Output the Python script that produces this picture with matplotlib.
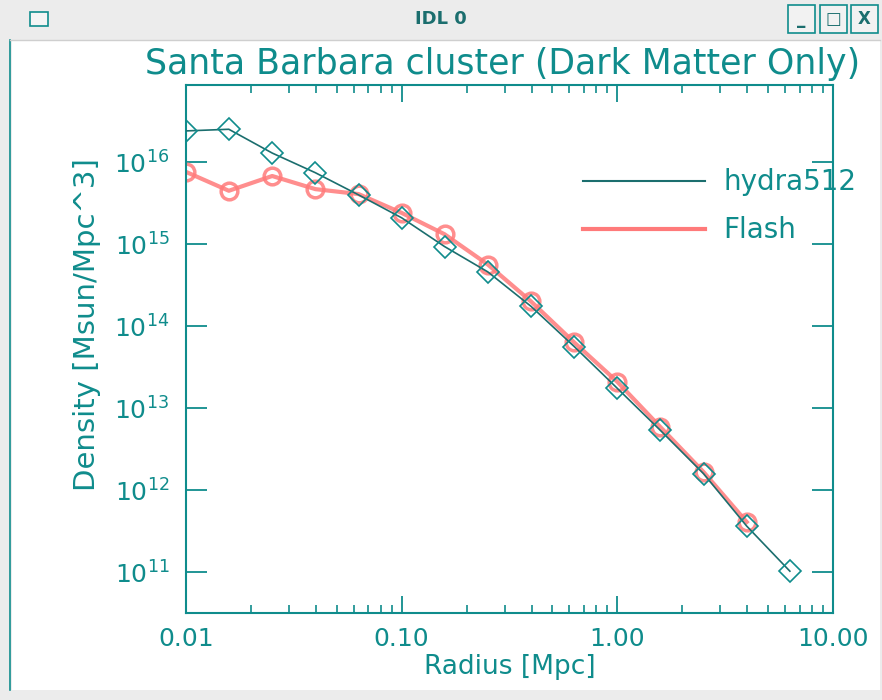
import numpy as np
import matplotlib.pyplot as plt
from matplotlib.patches import Rectangle
from matplotlib.lines import Line2D

# radius bins [Mpc] and log10 density [Msun/Mpc^3]
radius_hydra = [0.01, 0.0158, 0.0251, 0.0398, 0.0631, 0.1, 0.158, 0.251, 0.398,
                0.631, 1.0, 1.58, 2.51, 3.98, 6.31]
logdens_hydra = [16.38, 16.40, 16.11, 15.87, 15.60, 15.32, 14.97, 14.66, 14.24,
                 13.75, 13.24, 12.73, 12.20, 11.56, 11.01]
radius_flash = [0.01, 0.0158, 0.0251, 0.0398, 0.0631, 0.1, 0.158, 0.251, 0.398,
                0.631, 1.0, 1.58, 2.51, 3.98]
logdens_flash = [15.88, 15.65, 15.83, 15.67, 15.61, 15.38, 15.12, 14.75, 14.30,
                 13.80, 13.32, 12.77, 12.22, 11.61]

xticks = [0.01, 0.1, 1.0, 10.0]
xticklabels = ['0.01', '0.10', '1.00', '10.00']
yticks = [1e11, 1e12, 1e13, 1e14, 1e15, 1e16]
yticklabels = [r'$10^{11}$', r'$10^{12}$', r'$10^{13}$', r'$10^{14}$', r'$10^{15}$', r'$10^{16}$']

TEAL = '#0f8c8c'
DARKTEAL = '#1b6e6e'
RED = '#ff7a7a'

W, H = 882, 700
fig = plt.figure(figsize=(W / 100, H / 100), dpi=100, facecolor='#ececec')

# window decoration (IDL window)
def px(x0, y0, w, h):
    return (x0 / W, 1 - (y0 + h) / H), w / W, h / H

xy, w, h = px(12, 40, 868, 650)
fig.patches.append(Rectangle(xy, w, h, transform=fig.transFigure, facecolor='white',
                             edgecolor='none', zorder=-5))
fig.add_artist(Line2D([10 / W, 10 / W], [1 - 40 / H, 1 - 690 / H], color=TEAL, lw=1.2))
fig.add_artist(Line2D([10 / W, 880 / W], [1 - 40 / H, 1 - 40 / H], color='#cfcfcf', lw=1))
fig.text(441 / W, 1 - 19 / H, 'IDL 0', ha='center', va='center', fontsize=13,
         fontweight='bold', color=DARKTEAL)
xy, w, h = px(30, 12, 18, 14)
fig.patches.append(Rectangle(xy, w, h, transform=fig.transFigure, facecolor='#f4f4f4',
                             edgecolor=TEAL, lw=1.2))
for bx, sym in [(788, '_'), (820, '□'), (851, 'X')]:
    xy, w, h = px(bx, 5, 27, 28)
    fig.patches.append(Rectangle(xy, w, h, transform=fig.transFigure, facecolor='#f2f2f2',
                                 edgecolor=TEAL, lw=1.2))
    fig.text((bx + 13.5) / W, 1 - 19 / H, sym, ha='center', va='center', fontsize=12,
             fontweight='bold', color=DARKTEAL)

# plot area
ax = fig.add_axes([186 / W, 1 - 613 / H, (833 - 186) / W, (613 - 85) / H])
ax.set_zorder(2)
ax.set_xscale('log')
ax.set_yscale('log')

dens_hydra = 10 ** np.array(logdens_hydra)
dens_flash = 10 ** np.array(logdens_flash)

ax.plot(radius_flash, dens_flash, color=RED, lw=3, marker='o', ms=12, mfc='none',
        mec=RED, mew=2.5, alpha=0.85, zorder=2)
ax.plot(radius_hydra, dens_hydra, color=DARKTEAL, lw=1.2, marker='D', ms=11, mfc='none',
        mec=TEAL, mew=1.2, zorder=3)

ax.set_xlim(0.01, 9.7)
ax.set_ylim(10 ** 10.5, 10 ** 16.94)

ax.set_xticks(xticks)
ax.set_xticklabels(xticklabels)
ax.set_yticks(yticks)
ax.set_yticklabels(yticklabels)
ax.yaxis.set_minor_locator(plt.NullLocator())

for s in ax.spines.values():
    s.set_color(TEAL)
    s.set_linewidth(1.5)
ax.tick_params(axis='both', which='both', direction='in', colors=TEAL, top=True, right=True,
               labelcolor=TEAL)
ax.tick_params(axis='x', which='major', length=12, width=1.3, labelsize=18, pad=10)
ax.tick_params(axis='x', which='minor', length=6, width=1.2)
ax.tick_params(axis='y', which='major', length=15, width=1.3, labelsize=18, pad=12)

ax.set_xlabel('Radius [Mpc]', fontsize=19, color=TEAL, labelpad=2)
fig.text(87 / W, 1 - 325 / H, 'Density [Msun/Mpc^3]', rotation=90, ha='center',
         va='center', fontsize=21, color=TEAL)
fig.text(503 / W, 1 - 64 / H, 'Santa Barbara cluster (Dark Matter Only)', ha='center',
         va='center', fontsize=25, color=TEAL)

# legend drawn in IDL style
leg = [Line2D([], [], color=DARKTEAL, lw=1.5), Line2D([], [], color=RED, lw=3)]
ax.legend(leg, ['hydra512', 'Flash'], loc='upper left', bbox_to_anchor=(0.614, 0.842),
          frameon=False, fontsize=20, handlelength=4.4, handletextpad=0.65,
          labelspacing=0.72, borderpad=0, borderaxespad=0, labelcolor=TEAL)

fig.savefig('out.png', dpi=100, facecolor=fig.get_facecolor())
